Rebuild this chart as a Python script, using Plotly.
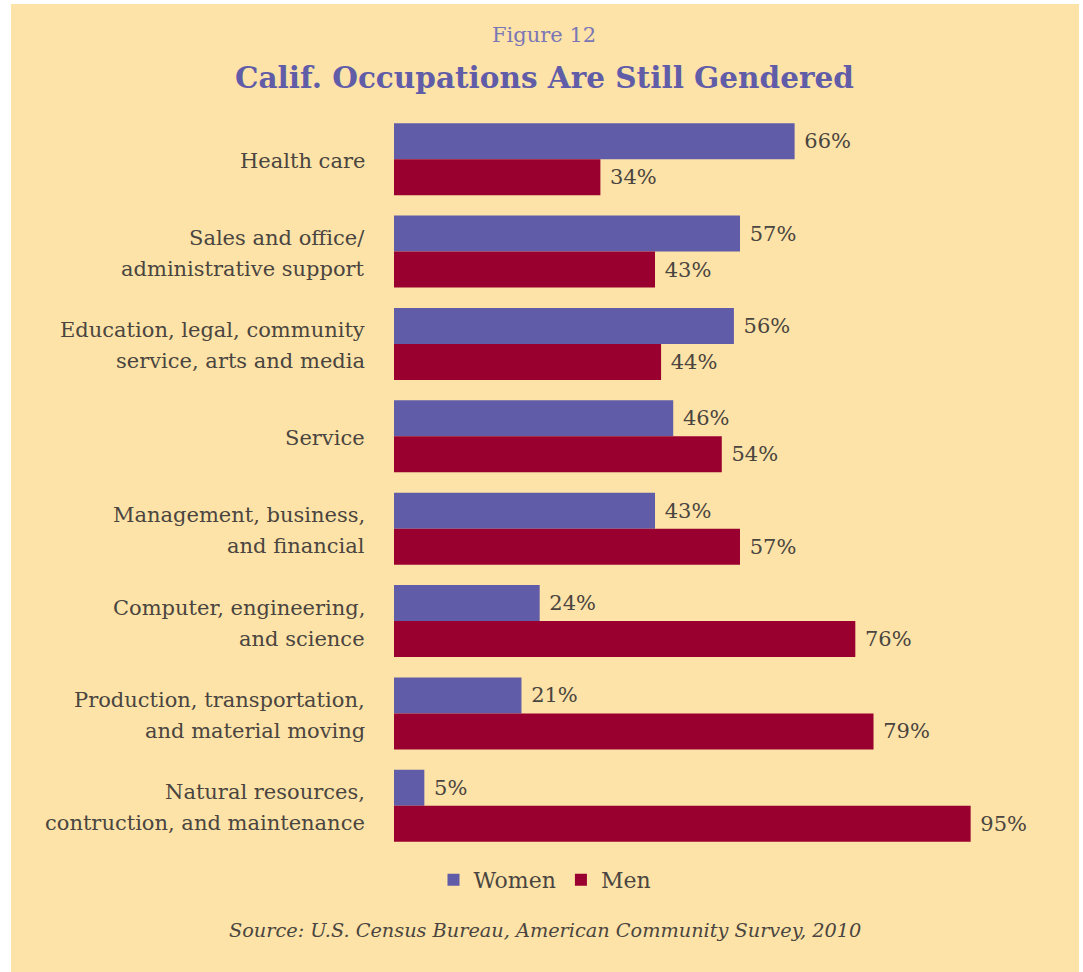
import plotly.graph_objects as go

# Occupation groups in California, share of workers by gender (%)
categories = [
    "Health care",
    "Sales and office/<br>administrative support",
    "Education, legal, community<br>service, arts and media",
    "Service",
    "Management, business,<br>and financial",
    "Computer, engineering,<br>and science",
    "Production, transportation,<br>and material moving",
    "Natural resources,<br>contruction, and maintenance",
]
women = [66, 57, 56, 46, 43, 24, 21, 5]
men = [34, 43, 44, 54, 57, 76, 79, 95]

BG = "#FDE3A7"
PURPLE = "#615CA8"
RED = "#990030"
TEXT = "#4a4540"
SERIF = "DejaVu Serif"

W, H = 1083, 972
L, R, T, B = 394, 82, 113, 120
pw, ph = W - L - R, H - T - B
LINE_GAP = 31  # spacing between lines of a category label


def px_x(x):
    return (x - L) / pw


def px_y(y):
    return (H - B - y) / ph


def pct(v):
    return "\u00a0" + f"{v}%"


fig = go.Figure()
fig.add_trace(go.Bar(
    y=categories, x=women, name="Women", orientation="h",
    marker=dict(color=PURPLE, line=dict(width=0)),
    text=[pct(v) for v in women], textposition="outside",
    textfont=dict(family=SERIF, size=21, color=TEXT), cliponaxis=False,
))
fig.add_trace(go.Bar(
    y=categories, x=men, name="Men", orientation="h",
    marker=dict(color=RED, line=dict(width=0)),
    text=[pct(v) for v in men], textposition="outside",
    textfont=dict(family=SERIF, size=21, color=TEXT), cliponaxis=False,
))

# Category labels, one annotation per line so the line spacing can be set
label_annotations = []
for cat in categories:
    lines = cat.split("<br>")
    n = len(lines)
    for i, line in enumerate(lines):
        offset = (i - (n - 1) / 2) * LINE_GAP
        label_annotations.append(dict(
            text=line, x=px_x(367), y=cat, xref="paper", yref="y",
            xanchor="right", yanchor="middle", showarrow=False,
            yshift=-offset - 2,
            font=dict(family=SERIF, size=21, color=TEXT),
        ))

fig.update_layout(
    width=W, height=H,
    margin=dict(l=L, r=R, t=T, b=B, pad=0),
    paper_bgcolor="white",
    plot_bgcolor="rgba(0,0,0,0)",
    barmode="group", bargap=0.22, bargroupgap=0,
    showlegend=True,
    legend=dict(
        orientation="h", traceorder="normal",
        x=px_x(545), xanchor="center", y=px_y(880), yanchor="middle",
        font=dict(family=SERIF, size=22, color=TEXT),
        bgcolor="rgba(0,0,0,0)", itemwidth=30,
    ),
    xaxis=dict(range=[0, 100], visible=False, fixedrange=True),
    yaxis=dict(
        autorange="reversed", showgrid=False, zeroline=False, showline=False,
        ticks="", showticklabels=False,
    ),
    shapes=[dict(
        type="rect", xref="paper", yref="paper", layer="below",
        x0=px_x(11), x1=px_x(1079), y0=px_y(972), y1=px_y(4),
        fillcolor=BG, line=dict(width=0),
    )],
    annotations=label_annotations + [
        dict(text="Figure 12", x=px_x(544), y=px_y(35), xref="paper", yref="paper",
             xanchor="center", yanchor="middle", showarrow=False,
             font=dict(family=SERIF, size=21, color="#7b76b6")),
        dict(text="<b>Calif. Occupations Are Still Gendered</b>", x=px_x(544), y=px_y(77),
             xref="paper", yref="paper", xanchor="center", yanchor="middle", showarrow=False,
             font=dict(family=SERIF, size=29.5, color=PURPLE)),
        dict(text="<i>Source: U.S. Census Bureau, American Community Survey, 2010</i>",
             x=px_x(545), y=px_y(930), xref="paper", yref="paper",
             xanchor="center", yanchor="middle", showarrow=False,
             font=dict(family=SERIF, size=19.3, color=TEXT)),
    ],
)

fig.write_html("out.html")
